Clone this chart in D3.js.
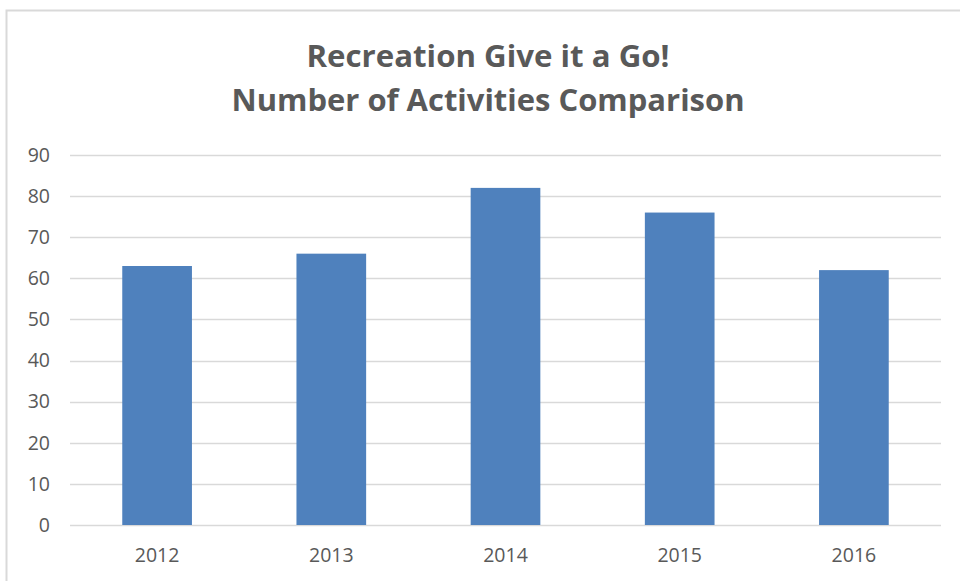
<!DOCTYPE html>
<html>
<head>
<meta charset="utf-8">
<script src="https://cdn.jsdelivr.net/npm/d3@7"></script>
<style>
  html, body { margin: 0; padding: 0; background: #fff; }
  svg { display: block; }
</style>
</head>
<body>
<svg id="chart" width="960" height="581"></svg>
<script>
// Activities per year
const years = ["2012", "2013", "2014", "2015", "2016"];
const activities = [63, 66, 82, 76, 62];
const yTicks = [0, 10, 20, 30, 40, 50, 60, 70, 80, 90];
const titleLines = ["Recreation Give it a Go!", "Number of Activities Comparison"];

const svg = d3.select("#chart");
const W = 960, H = 581;
const plot = { left: 70, right: 941, top: 155, bottom: 525 };

// chart frame (top and left edges)
svg.append("rect")
  .attr("x", 6.5).attr("y", 10.5)
  .attr("width", W + 10).attr("height", H + 10)
  .attr("fill", "#fff")
  .attr("stroke", "#d9d9d9").attr("stroke-width", 2);

const x = d3.scaleBand().domain(years).range([plot.left, plot.right]).paddingInner(0.6).paddingOuter(0.3);
const y = d3.scaleLinear().domain([0, 90]).range([plot.bottom, plot.top]);

// gridlines
svg.append("g")
  .selectAll("line").data(yTicks).join("line")
  .attr("x1", plot.left).attr("x2", plot.right)
  .attr("y1", d => Math.round(y(d)) + 0.5).attr("y2", d => Math.round(y(d)) + 0.5)
  .attr("stroke", "#d9d9d9").attr("stroke-width", 1.5);

// bars
svg.append("g")
  .selectAll("rect").data(years).join("rect")
  .attr("x", d => x(d))
  .attr("width", x.bandwidth())
  .attr("y", (d, i) => y(activities[i]))
  .attr("height", (d, i) => y(0) - y(activities[i]))
  .attr("fill", "#4f81bd");

// y axis labels
const yAxis = d3.axisLeft(y).tickValues(yTicks).tickSize(0).tickPadding(20);
const gy = svg.append("g").attr("transform", `translate(${plot.left},0)`).call(yAxis);
gy.select(".domain").remove();
gy.selectAll("text")
  .attr("font-family", "'Open Sans', sans-serif")
  .attr("font-size", 19.5)
  .attr("fill", "#595959");

// x axis labels
const xAxis = d3.axisBottom(x).tickSize(0).tickPadding(23);
const gx = svg.append("g").attr("transform", `translate(0,${plot.bottom})`).call(xAxis);
gx.select(".domain").remove();
gx.selectAll("text")
  .attr("font-family", "'Open Sans', sans-serif")
  .attr("font-size", 19.5)
  .attr("fill", "#595959");

// title
const titleWidths = [363, 513];
svg.append("g")
  .selectAll("text").data(titleLines).join("text")
  .attr("x", 488)
  .attr("y", (d, i) => 67 + i * 44)
  .attr("text-anchor", "middle")
  .attr("font-family", "'Open Sans', sans-serif")
  .attr("font-weight", 700)
  .attr("font-size", 31)
  .attr("fill", "#595959")
  .attr("textLength", (d, i) => titleWidths[i])
  .attr("lengthAdjust", "spacingAndGlyphs")
  .text(d => d);
</script>
</body>
</html>
